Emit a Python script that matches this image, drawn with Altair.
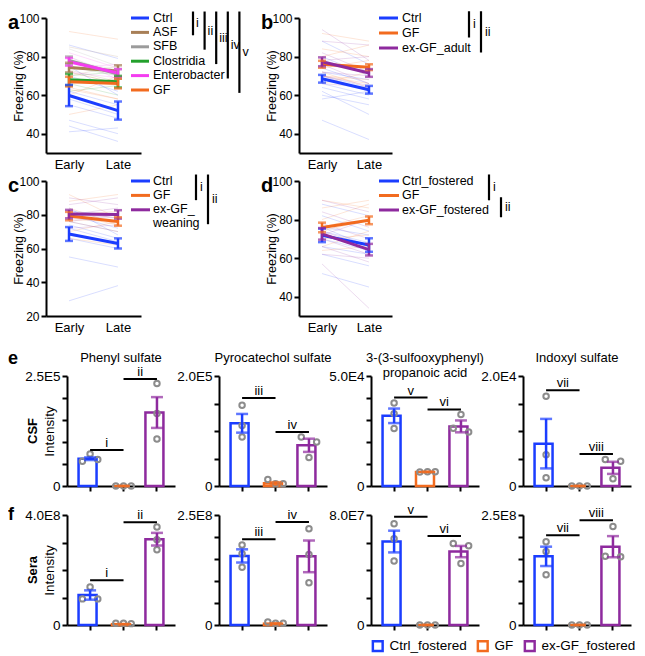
import altair as alt
import pandas as pd

FONT = "Liberation Sans"
BLUE, ORANGE, PURPLE = "#1B3DFF", "#F26B1F", "#8E2A9E"
GREY = "#8C8C8C"
TIMES = ["Early", "Late"]

# ---------------- panel a ----------------
a_groups = ["Ctrl", "ASF", "SFB", "Clostridia", "Enterobacter", "GF"]
a_labels = ["Ctrl", "ASF", "SFB", "Clostridia", "Enterobacter", "GF"]
a_colors = [BLUE, "#A87F57", "#9B9B9B", "#23A02C", "#F43DF0", ORANGE]
a_mean_early = [59.8, 74.3, 78.0, 68.0, 77.3, 67.0]
a_mean_late = [52.0, 72.5, 71.0, 67.0, 71.5, 66.0]
a_sem_early = [5.5, 2.5, 2.0, 3.0, 2.0, 2.5]
a_sem_late = [4.7, 3.0, 2.5, 3.0, 2.0, 2.5]
a_ind_early = {
    "Ctrl": [86, 70, 62, 58, 47, 44, 41, 55, 75],
    "ASF": [85, 78, 70, 66, 73],
    "SFB": [84, 80, 75, 72, 78],
    "Clostridia": [75, 70, 62, 66, 67],
    "Enterobacter": [82, 78, 74, 80, 72],
    "GF": [93, 60, 64, 72, 50, 63],
}
a_ind_late = {
    "Ctrl": [79, 62, 55, 50, 40, 36, 43, 48, 60],
    "ASF": [80, 72, 75, 68, 67],
    "SFB": [75, 70, 72, 66, 73],
    "Clostridia": [70, 72, 65, 60, 68],
    "Enterobacter": [74, 70, 76, 68, 69],
    "GF": [89, 70, 58, 66, 55, 58],
}
a_sig_from = ["Ctrl", "Ctrl", "Ctrl", "Ctrl", "Ctrl"]
a_sig_to = ["ASF", "SFB", "Clostridia", "Enterobacter", "GF"]
a_sig_lab = ["i", "ii", "iii", "iv", "v"]

# ---------------- panel b ----------------
b_groups = ["Ctrl", "GF", "ex-GF_adult"]
b_labels = ["Ctrl", "GF", "ex-GF_adult"]
b_colors = [BLUE, ORANGE, PURPLE]
b_mean_early = [68.5, 76.0, 77.3]
b_mean_late = [62.8, 74.5, 71.5]
b_sem_early = [2.0, 1.8, 2.3]
b_sem_late = [2.0, 1.5, 2.0]
b_ind_early = {
    "Ctrl": [88, 80, 74, 70, 66, 64, 60, 58, 62, 47, 72, 78],
    "GF": [92, 84, 80, 76, 74, 70, 66, 72, 70],
    "ex-GF_adult": [94, 88, 82, 78, 76, 72, 70, 66, 70],
}
b_ind_late = {
    "Ctrl": [76, 70, 66, 64, 60, 58, 55, 62, 50, 37, 68, 72],
    "GF": [88, 80, 86, 72, 78, 68, 72, 64, 66],
    "ex-GF_adult": [78, 86, 72, 80, 66, 70, 62, 64, 65],
}
b_sig_from = ["Ctrl", "Ctrl"]
b_sig_to = ["GF", "ex-GF_adult"]
b_sig_lab = ["i", "ii"]

# ---------------- panel c ----------------
c_groups = ["Ctrl", "GF", "ex-GF_weaning"]
c_labels = ["Ctrl", "GF", "ex-GF_\nweaning"]
c_colors = [BLUE, ORANGE, PURPLE]
c_mean_early = [68.6, 79.2, 80.4]
c_mean_late = [63.0, 76.0, 80.2]
c_sem_early = [4.1, 2.5, 2.5]
c_sem_late = [3.0, 2.5, 2.5]
c_ind_early = {
    "Ctrl": [29, 55, 66, 72, 76, 80, 84, 74, 82, 68],
    "GF": [92, 88, 84, 80, 76, 70, 66, 80, 77],
    "ex-GF_weaning": [90, 86, 82, 80, 78, 76, 72, 80],
}
c_ind_late = {
    "Ctrl": [38, 49, 60, 64, 70, 72, 68, 66, 80, 63],
    "GF": [78, 92, 74, 82, 70, 76, 62, 74, 76],
    "ex-GF_weaning": [86, 90, 78, 84, 76, 80, 74, 78],
}
c_sig_from = ["Ctrl", "Ctrl"]
c_sig_to = ["GF", "ex-GF_weaning"]
c_sig_lab = ["i", "ii"]

# ---------------- panel d ----------------
d_groups = ["Ctrl_fostered", "GF", "ex-GF_fostered"]
d_labels = ["Ctrl_fostered", "GF", "ex-GF_fostered"]
d_colors = [BLUE, ORANGE, PURPLE]
d_mean_early = [71.8, 75.9, 72.6]
d_mean_late = [66.8, 79.6, 64.4]
d_sem_early = [3.5, 2.5, 3.0]
d_sem_late = [3.5, 2.0, 3.0]
d_ind_early = {
    "Ctrl_fostered": [88, 82, 76, 72, 70, 66, 62, 52, 74, 76],
    "GF": [90, 86, 80, 76, 74, 70, 66, 64],
    "ex-GF_fostered": [90, 84, 78, 74, 70, 66, 57, 62, 72],
}
d_ind_late = {
    "Ctrl_fostered": [82, 74, 72, 66, 64, 62, 56, 45, 68, 66],
    "GF": [86, 90, 88, 82, 80, 72, 74, 66],
    "ex-GF_fostered": [84, 76, 70, 66, 62, 58, 34, 60, 80],
}
d_sig_from = ["Ctrl_fostered", "GF"]
d_sig_to = ["GF", "ex-GF_fostered"]
d_sig_lab = ["i", "ii"]

# ---------------- panels e / f ----------------
BAR_GROUPS = ["Ctrl_fostered", "GF", "ex-GF_fostered"]
BAR_COLORS = [BLUE, ORANGE, PURPLE]
SLOTS = ["l", "c", "r"]

e1 = dict(title="Phenyl sulfate", ymax=2.5, ystep=0.5, ylab="2.5E5",
          mean=[0.62, 0.0, 1.67], sem=[0.03, 0.0, 0.35],
          pts=[[0.73, 0.56, 0.60], [0, 0, 0], [2.33, 1.65, 1.07]],
          slot=[["c", "l", "r"], ["l", "c", "r"], ["c", "c", "c"]],
          sig_y=[0.82, 2.43], sig_lab=["i", "ii"])
e2 = dict(title="Pyrocatechol sulfate", ymax=2.0, ystep=0.5, ylab="2.0E5",
          mean=[1.14, 0.05, 0.74], sem=[0.17, 0.02, 0.12],
          pts=[[1.47, 1.10, 0.89], [0.12, 0.04, 0.04], [0.89, 0.80, 0.52]],
          slot=[["c", "c", "c"], ["l", "c", "r"], ["l", "r", "c"]],
          sig_y=[1.6, 0.98], sig_lab=["iii", "iv"])
e3 = dict(title="3-(3-sulfooxyphenyl)\npropanoic acid", ymax=5.0, ystep=1.0, ylab="5.0E4",
          mean=[3.19, 0.64, 2.71], sem=[0.33, 0.01, 0.27],
          pts=[[3.77, 3.29, 2.61], [0.64, 0.65, 0.65], [3.25, 2.62, 2.45]],
          slot=[["c", "c", "c"], ["l", "c", "r"], ["c", "l", "r"]],
          sig_y=[4.02, 3.48], sig_lab=["v", "vi"])
e4 = dict(title="Indoxyl sulfate", ymax=2.0, ystep=0.5, ylab="2.0E4",
          mean=[0.77, 0.0, 0.33], sem=[0.45, 0.0, 0.11],
          pts=[[1.63, 0.57, 0.15], [0, 0, 0], [0.48, 0.45, 0.13]],
          slot=[["c", "c", "c"], ["l", "c", "r"], ["l", "r", "c"]],
          sig_y=[1.74, 0.58], sig_lab=["vii", "viii"])
f1 = dict(title="", ymax=4.0, ystep=1.0, ylab="4.0E8",
          mean=[1.09, 0.03, 3.12], sem=[0.17, 0.005, 0.23],
          pts=[[1.38, 0.95, 0.95], [0.06, 0.06, 0.05], [3.56, 3.10, 2.74]],
          slot=[["c", "l", "r"], ["l", "c", "r"], ["c", "c", "c"]],
          sig_y=[1.63, 3.74], sig_lab=["i", "ii"])
f2 = dict(title="", ymax=2.5, ystep=0.5, ylab="2.5E8",
          mean=[1.57, 0.03, 1.56], sem=[0.15, 0.01, 0.36],
          pts=[[1.82, 1.62, 1.31], [0.07, 0.04, 0.04], [2.19, 1.60, 0.96]],
          slot=[["c", "c", "c"], ["l", "c", "r"], ["c", "c", "c"]],
          sig_y=[1.95, 2.34], sig_lab=["iii", "iv"])
f3 = dict(title="", ymax=8.0, ystep=2.0, ylab="8.0E7",
          mean=[6.07, 0.0, 5.34], sem=[0.79, 0.0, 0.41],
          pts=[[7.37, 6.28, 4.66], [0, 0, 0], [5.93, 5.77, 4.47]],
          slot=[["c", "c", "c"], ["l", "c", "r"], ["l", "r", "c"]],
          sig_y=[7.88, 6.47], sig_lab=["v", "vi"])
f4 = dict(title="", ymax=2.5, ystep=0.5, ylab="2.5E8",
          mean=[1.56, 0.0, 1.78], sem=[0.22, 0.0, 0.24],
          pts=[[1.89, 1.67, 1.14], [0, 0, 0], [2.24, 1.56, 1.55]],
          slot=[["c", "c", "c"], ["l", "c", "r"], ["c", "l", "r"]],
          sig_y=[2.04, 2.38], sig_lab=["vii", "viii"])


# ====================================================================
def line_panel(letter, groups, colors, me, ml, se, sl, ie, il, ydom, yticks, w, h, pad):
    cs = alt.Scale(domain=groups, range=colors)
    rows = []
    for g in groups:
        for i, (e, l) in enumerate(zip(ie[g], il[g])):
            rows.append({"group": g, "id": f"{g}_{i}", "time": "Early", "value": e})
            rows.append({"group": g, "id": f"{g}_{i}", "time": "Late", "value": l})
    ind = pd.DataFrame(rows)
    mrows = []
    for g, m1, m2, s1, s2 in zip(groups, me, ml, se, sl):
        mrows.append(dict(group=g, time="Early", mean=m1, lo=m1 - s1, hi=m1 + s1))
        mrows.append(dict(group=g, time="Late", mean=m2, lo=m2 - s2, hi=m2 + s2))
    mdf = pd.DataFrame(mrows)
    x = alt.X("time:N", scale=alt.Scale(type="point", domain=TIMES, padding=pad),
              axis=alt.Axis(title=None, ticks=False, labelAngle=0, labelFontSize=13,
                            labelPadding=5, domainWidth=2))
    ys = alt.Scale(domain=ydom, nice=False, zero=False)
    yax = alt.Axis(values=yticks, tickCount=len(yticks), title="Freezing (%)",
                   titleFontSize=12.5, titleFontWeight="normal", titleX=-28, titleY=h / 2,
                   titleBaseline="middle", titleAngle=270, labelFontSize=12,
                   tickSize=5, tickWidth=2, domainWidth=2, labelPadding=2,
                   labelOverlap=False)
    color = alt.Color("group:N", scale=cs, legend=None)
    indiv = alt.Chart(ind).mark_line(strokeWidth=1, opacity=0.17).encode(
        x=x, y=alt.Y("value:Q", scale=ys, axis=yax), color=color, detail="id:N")
    base = alt.Chart(mdf)
    means = base.mark_line(strokeWidth=3).encode(
        x="time:N", y=alt.Y("mean:Q", scale=ys), color=color, detail="group:N")
    err = base.mark_rule(strokeWidth=2.5).encode(x="time:N", y="lo:Q", y2="hi:Q", color=color)
    cap_lo = base.mark_tick(thickness=2.5, size=8).encode(x="time:N", y="lo:Q", color=color)
    cap_hi = base.mark_tick(thickness=2.5, size=8).encode(x="time:N", y="hi:Q", color=color)
    let = alt.Chart(pd.DataFrame({"t": [letter]})).mark_text(
        font=FONT, fontSize=20, fontWeight="bold", align="left", baseline="top"
    ).encode(text="t:N", x=alt.value(-38), y=alt.value(-5))
    return alt.layer(indiv, means, err, cap_lo, cap_hi, let).properties(width=w, height=h)


def ann_panel(groups, labels, colors, sig_from, sig_to, sig_lab, w, h, row_step,
              line_x, text_x, br_x0, br_dx, top_off, bot_off, num_dx):
    leg = pd.DataFrame({"group": groups, "label": labels, "row": list(range(len(groups)))})
    ys = alt.Scale(domain=[0, h / row_step], reverse=True, nice=False, zero=False)
    color = alt.Color("group:N", scale=alt.Scale(domain=groups, range=colors), legend=None)
    lines = alt.Chart(leg).mark_rule(strokeWidth=3).encode(
        x=alt.value(line_x[0]), x2=alt.value(line_x[1]),
        y=alt.Y("row:Q", scale=ys, axis=None), color=color)
    texts = alt.Chart(leg).mark_text(
        font=FONT, fontSize=12.5, align="left", baseline="top", dy=-6.5, lineBreak="\n",
        lineHeight=14).encode(
        x=alt.value(text_x), y=alt.Y("row:Q", scale=ys, axis=None), text="label:N")
    r0 = [groups.index(g) for g in sig_from]
    r1 = [groups.index(g) for g in sig_to]
    top = [a + b for a, b in zip(r0, top_off)]
    bot = [a + b for a, b in zip(r1, bot_off)]
    br = pd.DataFrame({"k": list(range(len(sig_lab))), "top": top, "bot": bot,
                       "mid": [(a + b) / 2 for a, b in zip(top, bot)], "label": sig_lab})
    xs = alt.Scale(domain=[0, 1], range=[br_x0, br_x0 + br_dx])
    rules = alt.Chart(br).mark_rule(strokeWidth=2.2, color="black").encode(
        x=alt.X("k:Q", scale=xs, axis=None), y=alt.Y("top:Q", scale=ys, axis=None), y2="bot:Q")
    nums = alt.Chart(br).mark_text(font=FONT, fontSize=12.5, align="left",
                                   baseline="middle", dx=num_dx).encode(
        x=alt.X("k:Q", scale=xs, axis=None), y=alt.Y("mid:Q", scale=ys, axis=None),
        text="label:N")
    return alt.layer(lines, texts, rules, nums).properties(width=w, height=h)


BW, BH = 108, 110
P_IN, P_OUT, P_AL = 0.31, 0.27, 0.64
STEP = BW / (3 - P_IN + 2 * P_OUT)
RING = "M-1,-1H1V1H-1Z M-0.6,-0.6V0.6H0.6V-0.6Z"


def bar_panel(p, letter=None, letter_y=0, rowlab=None, ytitle=None, legend=False):
    gd = BAR_GROUPS
    bars = pd.DataFrame({"group": gd, "mean": p["mean"],
                         "lo": [m - s for m, s in zip(p["mean"], p["sem"])],
                         "hi": [m + s for m, s in zip(p["mean"], p["sem"])]})
    pts = pd.DataFrame({"group": [g for g in gd for _ in range(3)],
                        "value": [v for row in p["pts"] for v in row],
                        "slot": [s for row in p["slot"] for s in row]})
    sig = pd.DataFrame({"g1": [gd[0], gd[1]], "g2": [gd[1], gd[2]],
                        "y": p["sig_y"], "label": p["sig_lab"]})
    xsc = alt.Scale(type="band", domain=gd, paddingInner=P_IN, paddingOuter=P_OUT, align=P_AL)
    xax = alt.Axis(title=None, labels=False, ticks=True, tickSize=5, tickWidth=2, domainWidth=2)
    ysc = alt.Scale(domain=[0, p["ymax"]], nice=False, zero=True)
    n = int(round(p["ymax"] / p["ystep"]))
    tv = [round(i * p["ystep"], 6) for i in range(n + 1)]
    expr = (f"datum.value == 0 ? '0' : (datum.value >= {p['ymax']} - 1e-9 ? '{p['ylab']}' : '')")
    yax = alt.Axis(values=tv, tickCount=len(tv), labelExpr=expr,
                   title=ytitle if ytitle else None,
                   titleFontSize=13.5, titleFontWeight="normal", titleX=-18, titleY=BH / 2,
                   titleBaseline="middle", titleAngle=270, labelOverlap=False,
                   labelFontSize=13.5, labelPadding=2, tickSize=5, tickWidth=2, domainWidth=2)
    if legend:
        leg = alt.Legend(title=None, orient="none", legendX=0, legendY=BH + 14,
                         direction="horizontal", symbolType=RING, symbolSize=150,
                         symbolStrokeWidth=0, labelFontSize=13.5,
                         labelFont=FONT, columnPadding=9, labelOffset=5, padding=0)
    else:
        leg = None
    stroke = alt.Stroke("group:N", scale=alt.Scale(domain=gd, range=BAR_COLORS), legend=leg)
    color = alt.Color("group:N", scale=alt.Scale(domain=gd, range=BAR_COLORS), legend=None)
    b = alt.Chart(bars).mark_bar(filled=False, strokeWidth=2.5).encode(
        x=alt.X("group:N", scale=xsc, axis=xax), y=alt.Y("mean:Q", scale=ysc, axis=yax),
        stroke=stroke)
    pt = alt.Chart(pts).mark_point(shape="circle", filled=False, size=30, strokeWidth=2,
                                   color=GREY, opacity=1).encode(
        x="group:N", xOffset=alt.XOffset("slot:N", scale=alt.Scale(domain=SLOTS)),
        y="value:Q")
    er = alt.Chart(bars).mark_rule(strokeWidth=2.5).encode(
        x="group:N", y="lo:Q", y2="hi:Q", color=color)
    c1 = alt.Chart(bars).mark_tick(thickness=2.5, size=12).encode(x="group:N", y="lo:Q", color=color)
    c2 = alt.Chart(bars).mark_tick(thickness=2.5, size=12).encode(x="group:N", y="hi:Q", color=color)
    sr = alt.Chart(sig).mark_rule(strokeWidth=2, color="black").encode(
        x="g1:N", x2="g2:N", y="y:Q")
    st = alt.Chart(sig).mark_text(font=FONT, fontSize=13, baseline="alphabetic",
                                  dy=-3, dx=STEP / 2).encode(x="g1:N", y="y:Q", text="label:N")
    layers = [b, pt, er, c1, c2, sr, st]
    if p["title"]:
        layers.append(alt.Chart(pd.DataFrame({"t": [p["title"]]})).mark_text(
            font=FONT, fontSize=13, baseline="top", align="center", lineBreak="\n",
            lineHeight=14.5).encode(text="t:N", x=alt.value(BW / 2), y=alt.value(-24)))
    if letter:
        layers.append(alt.Chart(pd.DataFrame({"t": [letter]})).mark_text(
            font=FONT, fontSize=18, fontWeight="bold", align="left", baseline="alphabetic"
        ).encode(text="t:N", x=alt.value(-59), y=alt.value(letter_y)))
    if rowlab:
        layers.append(alt.Chart(pd.DataFrame({"t": [rowlab]})).mark_text(
            font=FONT, fontSize=13, fontWeight="bold", align="center", baseline="middle",
            angle=270).encode(text="t:N", x=alt.value(-34), y=alt.value(BH / 2)))
    return alt.layer(*layers).properties(width=BW, height=BH)


def spacer(w, h):
    return alt.Chart(pd.DataFrame({"v": [0]})).mark_rule(opacity=0).encode(
        x=alt.value(0), x2=alt.value(1), y=alt.value(0)).properties(width=w, height=h)


LH = 135
pa = line_panel("a", a_groups, a_colors, a_mean_early, a_mean_late, a_sem_early, a_sem_late,
                a_ind_early, a_ind_late, [30, 100], [40, 60, 80, 100], 95, LH, 0.47)
aa = ann_panel(a_groups, a_labels, a_colors, a_sig_from, a_sig_to, a_sig_lab, 158, LH, 14.4,
               (-10, 8), 12, 52, 11.6, [-0.45] * 5, [0.2] * 5, 3)
pb = line_panel("b", b_groups, b_colors, b_mean_early, b_mean_late, b_sem_early, b_sem_late,
                b_ind_early, b_ind_late, [30, 100], [40, 60, 80, 100], 93, LH, 0.49)
ab = ann_panel(b_groups, b_labels, b_colors, b_sig_from, b_sig_to, b_sig_lab, 135, LH, 15,
               (-13, 6), 10, 77, 12, [-0.45, -0.45], [0.3, 0.3], 4)
pc = line_panel("c", c_groups, c_colors, c_mean_early, c_mean_late, c_sem_early, c_sem_late,
                c_ind_early, c_ind_late, [20, 100], [20, 40, 60, 80, 100], 95, LH, 0.47)
ac = ann_panel(c_groups, c_labels, c_colors, c_sig_from, c_sig_to, c_sig_lab, 158, LH, 14.4,
               (-10, 9), 12, 55, 12, [-0.45, -0.45], [0.33, 1.0], 4)
pd_ = line_panel("d", d_groups, d_colors, d_mean_early, d_mean_late, d_sem_early, d_sem_late,
                 d_ind_early, d_ind_late, [30, 100], [40, 60, 80, 100], 93, LH, 0.49)
ad = ann_panel(d_groups, d_labels, d_colors, d_sig_from, d_sig_to, d_sig_lab, 135, LH, 14.5,
               (-13, 7), 10, 97, 12, [-0.45, 0.12], [0.33, 0.5], 4)

RES = dict(color="independent", stroke="independent")
GAP = 44
row1 = alt.hconcat(pa, aa, pb, ab, spacing=0, bounds="flush").resolve_scale(**RES)
row2 = alt.hconcat(pc, ac, pd_, ad, spacing=0, bounds="flush").resolve_scale(**RES)
row3 = alt.hconcat(
    spacer(21, 1),
    bar_panel(e1, letter="e", letter_y=-12, rowlab="CSF", ytitle="Intensity"),
    spacer(GAP, 1), bar_panel(e2), spacer(GAP, 1), bar_panel(e3), spacer(GAP, 1), bar_panel(e4),
    spacing=0, bounds="flush").resolve_scale(**RES)
row4 = alt.hconcat(
    spacer(21, 1),
    bar_panel(f1, letter="f", letter_y=5, rowlab="Sera", ytitle="Intensity"),
    spacer(GAP, 1), bar_panel(f2), spacer(GAP, 1), bar_panel(f3, legend=True),
    spacer(GAP, 1), bar_panel(f4),
    spacing=0, bounds="flush").resolve_scale(**RES)

chart = alt.concat(row1, row2, spacer(1, 12), row3, spacer(1, 6), row4,
                   columns=1, align="none", spacing=2).resolve_scale(**RES).properties(
    padding={"top": 2, "left": 0, "right": 0, "bottom": 0}
).configure_view(stroke=None).configure_axis(
    grid=False, domainColor="black", tickColor="black", labelColor="black",
    titleColor="black", labelFont=FONT, titleFont=FONT
).configure_text(font=FONT, color="black")

chart.save("out.html", embed_options={"renderer": "svg", "actions": False})
